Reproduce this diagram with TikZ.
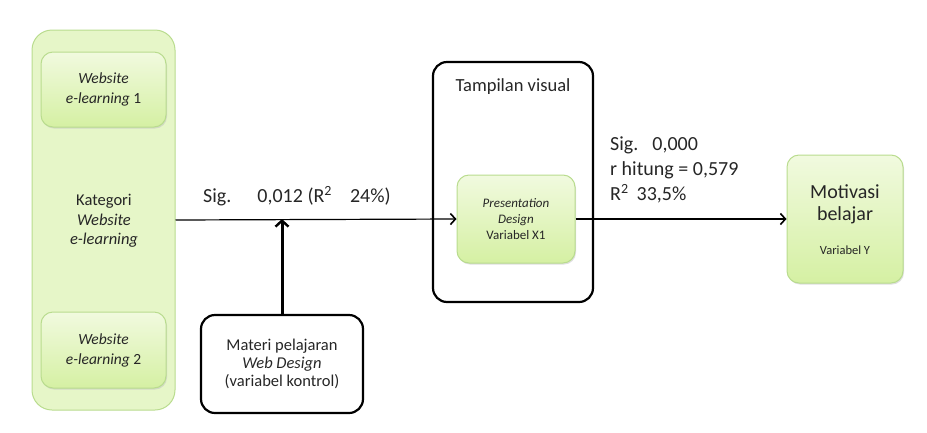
\documentclass[tikz,border=0pt]{standalone}
\usepackage{fontspec}
\setmainfont{Carlito}
\usetikzlibrary{arrows.meta,shadows}
\definecolor{gbord}{HTML}{B9DC8E}
\definecolor{gtop}{HTML}{F1FADF}
\definecolor{gbot}{HTML}{D5F0A3}
\definecolor{gmid}{HTML}{E6F6C8}
\definecolor{txt}{HTML}{262626}
\tikzset{
  gbox/.style={draw=gbord, line width=1pt, rounded corners=12pt, top color=gtop, bottom color=gbot,
     drop shadow={shadow xshift=1pt, shadow yshift=-1.5pt, fill=black!25, opacity=0.5},
     align=center, inner sep=2pt, text=txt},
  bigbox/.style={draw=gbord, line width=1pt, rounded corners=20pt, fill=gmid, inner sep=0pt},
  bbox/.style={draw=black, line width=2.2pt, rounded corners=14pt, align=center, text=txt},
  conn/.style={line width=1.2pt, -{Straight Barb[length=5pt,width=11pt,line width=1.6pt]}},
  thickconn/.style={line width=3pt, -{Straight Barb[length=6pt,width=13pt,line width=2.4pt]}},
  lbl/.style={text=txt, inner sep=0pt}
}
\begin{document}
\begin{tikzpicture}[x=1pt,y=-1pt]
\useasboundingbox (0,0) rectangle (927,432);
% left big category box
\node[bigbox, minimum width=143pt, minimum height=380pt] (kat) at (103.5,220) {};
\node[lbl, align=center, font=\fontsize{16.5}{19.5}\selectfont] (kattxt) at (104,221) {Kategori\\\textit{Website}\\\textit{e-learning}};
\node[gbox, minimum width=125pt, minimum height=75pt, font=\fontsize{15.5}{20}\selectfont] (w1) at (103.5,89.5) {\textit{Website}\\\textit{e-learning} 1};
\node[gbox, minimum width=125pt, minimum height=76pt, font=\fontsize{15.5}{20}\selectfont] (w2) at (103.5,350) {\textit{Website}\\\textit{e-learning} 2};
% Tampilan visual box
\node[bbox, minimum width=160pt, minimum height=240pt] (tv) at (513,182) {};
\node[lbl, font=\fontsize{18.5}{22}\selectfont] (tvtxt) at (513,87) {Tampilan visual};
\node[gbox, minimum width=118pt, minimum height=88pt, font=\fontsize{13}{16}\selectfont] (pres) at (516,219) {\textit{Presentation}\\\textit{Design}\\Variabel X1};
% Motivasi box
\node[gbox, minimum width=116pt, minimum height=128pt] (mot) at (845,219) {};
\node[lbl, align=center, font=\fontsize{20}{22}\selectfont] (mottxt) at (845,204) {Motivasi\\belajar};
\node[lbl, font=\fontsize{12.5}{14}\selectfont] (vary) at (845,250) {Variabel Y};
% Materi box
\node[bbox, minimum width=162pt, minimum height=98pt, font=\fontsize{16.5}{18}\selectfont] (mat) at (282,364) {Materi pelajaran\\\textit{Web Design}\\(variabel kontrol)};
% connectors
\coordinate (junc) at (282,219);
\draw[conn] (kat.east) -- (pres.west);
\draw[thickconn] (mat.north) -- (junc);
\draw[conn] (pres.east) -- (mot.west);
% labels
\node[lbl, anchor=west, font=\fontsize{20}{24}\selectfont] (sig1) at (203,196) {Sig.\hspace{26pt}0,012 (R\textsuperscript{2}\hspace{18pt}24\%)};
\node[lbl, anchor=west, align=left, font=\fontsize{20}{25}\selectfont] (sig2) at (610,170) {Sig.\hspace{14pt}0,000\\r hitung = 0,579\\R\textsuperscript{2}\hspace{8pt}33,5\%};
\end{tikzpicture}
\end{document}
